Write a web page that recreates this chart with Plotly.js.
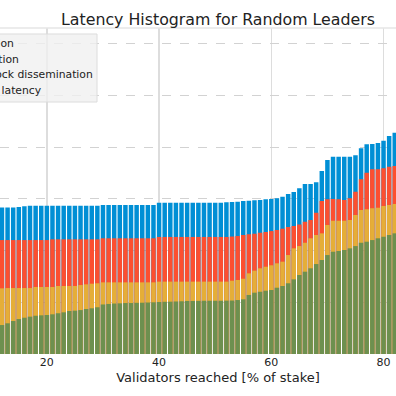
<!DOCTYPE html>
<html>
<head>
<meta charset="utf-8">
<script src="https://cdn.plot.ly/plotly-3.0.1.min.js"></script>
<style>
html,body{margin:0;padding:0;overflow:hidden;width:396px;height:396px;background:#fff;}
#chart{position:absolute;left:-90px;top:0;width:616px;height:396px;}
</style>
</head>
<body>
<div id="chart"></div>
<script>
// Validators reached [% of stake] (visible bars)
const stakePct = [12,13,14,15,16,17,18,19,20,21,22,23,24,25,26,27,28,29,30,31,32,33,34,35,36,37,38,39,40,41,42,43,44,45,46,47,48,49,50,51,52,53,54,55,56,57,58,59,60,61,62,63,64,65,66,67,68,69,70,71,72,73,74,75,76,77,78,79,80,81,82];

// cumulative latency (ms) up to each stage
const finalization = [141.7,141.7,141.7,142.2,142.8,143.4,143.4,143.4,143.4,143.4,143.4,143.4,143.4,143.4,143.4,143.4,143.4,143.4,144.1,144.1,144.1,144.1,144.1,144.1,144.1,144.1,144.1,144.1,146.3,146.3,146.3,146.3,146.3,146.3,146.3,146.3,146.3,146.3,146.3,146.3,146.7,147.0,147.3,148.0,148.2,148.6,148.9,149.6,149.9,150.6,152.1,154.7,156.7,160.2,164.4,164.4,166.0,177.0,187.6,190.8,190.8,190.8,190.8,192.2,198.9,202.8,203.1,204.0,206.3,210.8,214.0];

const notarization = [110.2,110.2,110.2,110.2,110.2,110.2,110.2,110.2,110.2,110.9,110.9,110.9,110.9,110.9,110.9,110.9,110.9,110.9,111.9,111.9,111.9,111.9,111.9,111.9,111.9,111.9,111.9,111.9,113.2,113.2,113.2,113.2,113.2,113.2,113.2,113.2,113.2,113.2,113.2,113.2,113.2,113.6,114.1,115.1,115.8,116.3,117.3,118.0,118.9,119.9,121.2,122.8,123.8,125.2,127.9,129.6,136.6,148.0,149.6,149.9,149.6,148.9,150.6,157.0,168.9,175.3,178.6,178.6,179.6,181.1,181.8];

const rotorDissemination = [63.5,63.8,63.8,63.8,63.8,63.8,64.8,64.8,64.8,64.8,65.8,65.8,65.8,65.8,66.7,67.4,68.0,68.4,69.3,69.3,69.3,69.3,69.3,69.3,69.3,69.3,69.3,69.3,70.0,70.0,70.0,70.0,70.0,70.0,70.0,70.0,70.0,70.0,70.0,70.0,70.0,70.9,71.6,72.8,78.0,80.6,82.9,84.4,85.8,87.7,89.3,95.7,102.2,104.4,107.6,111.9,115.1,116.7,124.7,128.9,128.9,128.9,129.6,134.4,139.2,139.9,140.9,141.5,143.1,144.1,145.1];

const networkLatency = [28.0,29.7,31.9,33.8,35.1,36.1,37.0,37.4,37.7,38.4,39.4,40.3,41.6,41.9,42.5,43.5,44.2,45.2,47.9,48.4,48.8,49.0,49.3,49.3,49.5,49.6,49.8,50.0,50.3,50.5,50.6,50.8,51.0,51.3,51.3,51.4,51.5,51.5,51.5,51.5,51.6,51.7,52.2,52.9,57.1,59.3,60.2,61.2,61.9,64.1,65.8,68.4,72.2,76.4,79.6,82.9,87.0,90.9,95.7,98.9,99.6,100.6,102.2,104.4,107.6,108.6,110.2,111.9,113.4,115.1,116.7];

const seriesNames = ['Finalization','Notarization','Rotor block dissemination','Network latency'];
const seriesColors = ['#008fd5','#fc4f30','#e5ae38','#6d904f'];
const seriesValues = [finalization, notarization, rotorDissemination, networkLatency];
const xTicks = [20,40,60,80];

const traces = seriesValues.map((vals,i)=>({
  type:'bar', x: stakePct, y: vals, name: seriesNames[i], width: 0.8,
  marker:{color: seriesColors[i], line:{width:0}}, opacity:1, hoverinfo:'skip'
}));

// legend drawn as text (positions in paper coords)
const legendY = [0.953,0.904,0.856,0.807];
const annotations = seriesNames.map((n,i)=>({
  text:n, xref:'paper', yref:'paper', x:0.0666, y:legendY[i], xanchor:'left', yanchor:'middle',
  showarrow:false, font:{family:'DejaVu Sans', size:10.8, color:'#222'}
}));

const layout = {
  width:616, height:396,
  margin:{l:0,r:0,t:28,b:42,pad:0},
  paper_bgcolor:'#ffffff', plot_bgcolor:'#ffffff',
  barmode:'overlay', showlegend:false,
  font:{family:'DejaVu Sans', color:'#222'},
  title:{text:'Latency Histogram for Random Leaders', font:{family:'DejaVu Sans', size:15.8, color:'#222'},
         x:0.5, xref:'paper', xanchor:'center', y:1-19/396, yref:'container', yanchor:'middle'},
  xaxis:{range:[-4.39,105.39], tickvals:xTicks, ticktext:xTicks.map(String), showgrid:true, gridcolor:'#dddddd', gridwidth:1.3,
         zeroline:false, showline:false, ticks:'', tickfont:{size:11, color:'#222'}, automargin:false,
         title:{text:'Validators reached [% of stake]', font:{size:13, color:'#222'}, standoff:4}},
  yaxis:{range:[0,315.3], tick0:0, dtick:50, showgrid:true, gridcolor:'#d2d2d2', griddash:'dash', gridwidth:1,
         zeroline:false, showline:false, ticks:'', showticklabels:false, automargin:false},
  shapes:[
    {type:'line', xref:'paper', yref:'paper', x0:0, x1:1, y0:1, y1:1, line:{color:'#e6e6e6', width:1.5}, layer:'above'},
    {type:'rect', xref:'paper', yref:'paper', x0:0.008, x1:0.3036, y0:0.773, y1:0.9816,
     fillcolor:'rgba(240,240,240,0.8)', line:{color:'#dcdcdc', width:1}, layer:'above'}
  ],
  annotations: annotations
};

Plotly.newPlot('chart', traces, layout, {displayModeBar:false, responsive:false, staticPlot:true});
</script>
</body>
</html>
